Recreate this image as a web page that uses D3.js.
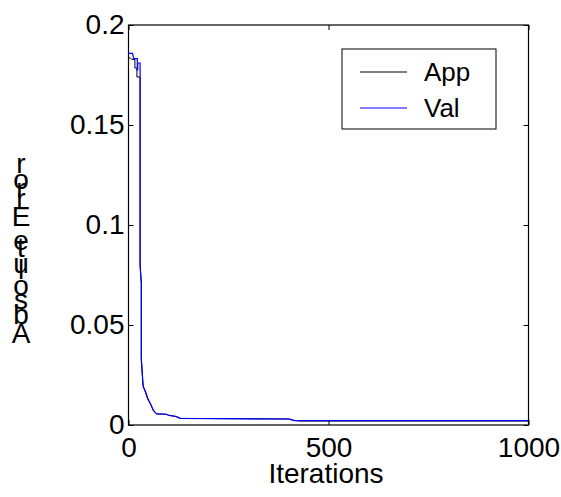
<!DOCTYPE html>
<html>
<head>
<meta charset="utf-8">
<script src="https://cdn.jsdelivr.net/npm/d3@7"></script>
<style>
  html, body { margin: 0; padding: 0; background: #fff; }
  svg text { font-family: Arial, "Liberation Sans", sans-serif; fill: #000; }
</style>
</head>
<body>
<svg id="chart" width="561" height="497"></svg>
<script>
// ---- data ----
const xTicks = [0, 500, 1000];
const yTicks = [0, 0.05, 0.1, 0.15, 0.2];
const yTickLabels = ["0", "0.05", "0.1", "0.15", "0.2"];
const seriesNames = ["App", "Val"];
const seriesColors = ["#000000", "#0000ff"];

const appIter = [0, 4, 8, 16, 16, 21, 21, 29, 29, 32, 32, 36, 42, 48, 55, 62, 70, 95, 100, 120, 129, 400, 410, 429, 1000];
const appErr  = [0.1836, 0.1836, 0.1828, 0.1828, 0.1785, 0.1785, 0.174, 0.174, 0.080, 0.071, 0.034, 0.020, 0.0165, 0.013, 0.0105, 0.0072, 0.0056, 0.0053, 0.0048, 0.0042, 0.0033, 0.0030, 0.0024, 0.0020, 0.0020];

const valIter = [0, 10, 13, 22, 22, 23, 23, 29, 29, 32, 32, 37, 42, 48, 54, 62, 70, 91, 100, 120, 129, 404, 414, 1000];
const valErr  = [0.1858, 0.1858, 0.1832, 0.1832, 0.1775, 0.1775, 0.181, 0.181, 0.080, 0.071, 0.0325, 0.019, 0.017, 0.0135, 0.011, 0.0075, 0.0055, 0.0055, 0.0050, 0.0042, 0.0033, 0.0030, 0.0022, 0.0022];

// ---- layout ----
const svg = d3.select("#chart");
const L = 128.5, R = 528.5, T = 25, B = 425;
const x = d3.scaleLinear().domain([0, 1000]).range([L, R]);
const y = d3.scaleLinear().domain([0, 0.2]).range([B, T]);
const fs = 28;

// axes box + ticks (inward)
const tickLen = 5;
const gx = svg.append("g").attr("transform", `translate(0,${B})`)
  .call(d3.axisBottom(x).tickValues(xTicks).tickSizeInner(-tickLen).tickSizeOuter(0).tickPadding(12).tickFormat(d3.format("d")));
const gxt = svg.append("g").attr("transform", `translate(0,${T})`)
  .call(d3.axisTop(x).tickValues(xTicks).tickSizeInner(-tickLen).tickSizeOuter(0).tickFormat(""));
const gy = svg.append("g").attr("transform", `translate(${L},0)`)
  .call(d3.axisLeft(y).tickValues(yTicks).tickSizeInner(-tickLen).tickSizeOuter(0).tickPadding(4).tickFormat((d, i) => yTickLabels[i]));
const gyr = svg.append("g").attr("transform", `translate(${R},0)`)
  .call(d3.axisRight(y).tickValues(yTicks).tickSizeInner(-tickLen).tickSizeOuter(0).tickFormat(""));

[gx, gxt, gy, gyr].forEach(g => {
  g.select(".domain").remove();
  g.selectAll(".tick line").attr("stroke", "#000").attr("stroke-width", 1);
  g.selectAll(".tick text").attr("font-size", fs).attr("font-family", "Arial, 'Liberation Sans', sans-serif");
});
gx.selectAll(".tick text").attr("dy", "0.71em");
svg.append("rect").attr("x", L).attr("y", T).attr("width", R - L).attr("height", B - T)
  .attr("fill", "none").attr("stroke", "#000").attr("stroke-width", 1.2);

// lines
const line = d3.line().x(d => x(d[0])).y(d => y(d[1]));
const appData = appIter.map((v, i) => [v, appErr[i]]);
const valData = valIter.map((v, i) => [v, valErr[i]]);
svg.append("path").datum(appData).attr("d", line).attr("fill", "none")
  .attr("stroke", seriesColors[0]).attr("stroke-width", 1);
svg.append("path").datum(valData).attr("d", line).attr("fill", "none")
  .attr("stroke", seriesColors[1]).attr("stroke-width", 1.2);

// x label
svg.append("text").attr("x", 326).attr("y", 483).attr("text-anchor", "middle")
  .attr("font-size", fs).text("Iterations");

// y label: upright glyphs stacked upward (as in the reference)
const ylab = "Absolute Error";
let yy = 343;
const meas = svg.append("text").attr("font-size", fs).attr("visibility", "hidden");
for (const ch of ylab) {
  meas.text(ch === " " ? "\u00a0" : ch);
  const w = meas.node().getComputedTextLength();
  if (ch !== " ") {
    svg.append("text").attr("x", 21).attr("y", yy).attr("text-anchor", "middle")
      .attr("font-size", fs).text(ch);
  }
  yy -= w;
}
meas.remove();

// legend
const lg = svg.append("g");
lg.append("rect").attr("x", 342).attr("y", 49).attr("width", 154).attr("height", 80)
  .attr("fill", "#fff").attr("stroke", "#000").attr("stroke-width", 1);
const rowsY = [72, 108];
seriesNames.forEach((n, i) => {
  lg.append("line").attr("x1", 360).attr("x2", 407).attr("y1", rowsY[i]).attr("y2", rowsY[i])
    .attr("stroke", seriesColors[i]).attr("stroke-width", 1);
  lg.append("text").attr("x", 424).attr("y", rowsY[i]).attr("dy", "0.36em")
    .attr("font-size", 26).text(n);
});
</script>
</body>
</html>
